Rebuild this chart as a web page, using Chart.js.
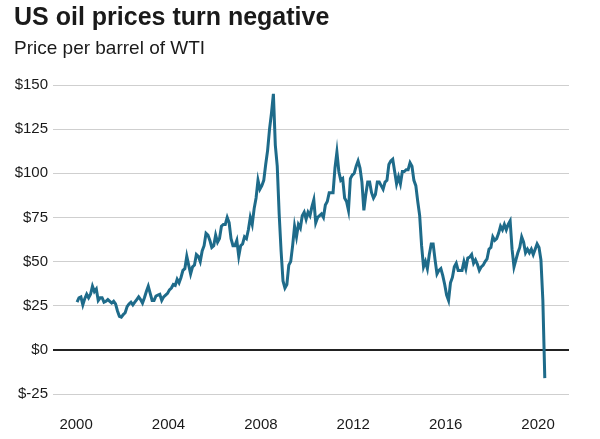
<!DOCTYPE html>
<html>
<head>
<meta charset="utf-8">
<script src="https://cdn.jsdelivr.net/npm/chart.js@4/dist/chart.umd.min.js"></script>
<style>
  html, body {
    margin: 0;
    padding: 0;
    background: #fff;
  }
  .wrap {
    position: relative;
    width: 600px;
    height: 439px;
    font-family: "Liberation Sans", Arial, sans-serif;
    color: #1a1a1a;
  }
  .chart-title {
    position: absolute;
    left: 14px;
    top: 2px;
    font-size: 25px;
    font-weight: bold;
  }
  .chart-subtitle {
    position: absolute;
    left: 14px;
    top: 37px;
    font-size: 19px;
  }
  canvas {
    position: absolute;
    left: 0;
    top: 0;
  }
</style>
</head>
<body>
<div class="wrap">
  <canvas id="oil" width="600" height="439"></canvas>
  <div class="chart-title">US oil prices turn negative</div>
  <div class="chart-subtitle">Price per barrel of WTI</div>
</div>
<script>
// WTI price, one value per month starting Jan 2000
const startYear = 2000;
const monthlyPrice = [
  27, 29.5, 30, 25.5, 29, 31.5, 29.5, 31.5, 36, 33, 34.5, 28,      // 2000
  29.5, 29.5, 27, 27.5, 28.5, 27.5, 26.5, 27.5, 26, 22, 19, 18.5,  // 2001
  20, 21, 24.5, 26, 27, 25.5, 27, 28.5, 30, 28.5, 26.5, 29.5,      // 2002
  33, 36, 32, 28, 28, 30.5, 31, 31.5, 28, 30, 31, 32,              // 2003
  34, 35, 37, 36.5, 40, 38, 41, 45, 46, 53, 48, 43,                // 2004
  47, 48, 54, 53, 50, 56, 59, 66, 65, 62, 58, 59,                  // 2005
  65, 61, 63, 70, 71, 71, 75, 72, 63, 59, 59, 62,                  // 2006
  53, 59, 60, 64, 63, 68, 75, 71, 80, 86, 96, 91,                  // 2007
  93, 96, 105, 113, 125, 134, 145, 116, 104, 77, 56, 39,           // 2008
  35, 37, 48, 50, 59, 70, 64, 71, 69, 76, 78, 74,                  // 2009
  78, 76, 81, 85, 72, 75, 76, 77, 75, 82, 84, 89,                  // 2010
  89, 89, 103, 112, 101, 96, 97, 86, 84, 79, 97, 99,               // 2011
  100, 104, 107, 103, 95, 79, 88, 95, 95, 89, 86, 88,              // 2012
  95, 95, 93, 91, 95, 96, 105, 107, 108, 101, 94, 98,              // 2013
  94, 101, 101, 102, 102, 106, 104, 96, 93, 84, 76, 59,            // 2014
  47, 50, 46, 54, 60, 60, 51, 43, 45, 46, 42, 37,                  // 2015
  31, 28, 38, 41, 47, 49, 45, 45, 45, 50, 46, 52,                  // 2016
  52.5, 54, 49, 51, 48.5, 45, 47, 48, 50, 51.5, 57, 58,            // 2017
  64, 62, 63, 66, 70, 68, 71, 68, 71, 73, 57, 47,                  // 2018
  51, 55, 58, 64, 61, 55, 57, 55, 57, 54, 57, 60,                  // 2019
  58, 51, 28, -16                                                  // 2020
];

const yearTicks = [2000, 2004, 2008, 2012, 2016, 2020];
const priceTicks = [-25, 0, 25, 50, 75, 100, 125, 150];

// mid-month positions on a decimal-year axis
const points = monthlyPrice.map((v, i) => ({ x: startYear + (i + 0.5) / 12, y: v }));

const labelFont = { family: '"Liberation Sans", Arial, sans-serif', size: 15 };

const ctx = document.getElementById('oil').getContext('2d');
new Chart(ctx, {
  type: 'line',
  data: {
    datasets: [{
      data: points,
      borderColor: '#1e6b8a',
      borderWidth: 3,
      pointRadius: 0,
      tension: 0,
      fill: false
    }]
  },
  options: {
    responsive: false,
    animation: false,
    layout: {
      padding: { top: 85, right: 31, bottom: 0, left: 0 }
    },
    plugins: {
      legend: { display: false },
      tooltip: { enabled: false }
    },
    scales: {
      x: {
        type: 'linear',
        min: 1999.0,
        max: 2021.34,
        afterBuildTicks: scale => {
          scale.ticks = yearTicks.map(v => ({ value: v }));
        },
        afterFit: scale => {
          scale.height = 45;
        },
        grid: { display: false, drawTicks: false },
        border: { display: false },
        ticks: {
          padding: 22,
          color: '#1a1a1a',
          font: labelFont,
          callback: v => String(v),
          maxRotation: 0
        }
      },
      y: {
        min: -25,
        max: 150,
        afterBuildTicks: scale => {
          scale.ticks = priceTicks.map(v => ({ value: v }));
        },
        afterFit: scale => {
          scale.width = 53;
        },
        grid: {
          color: c => (c.tick && c.tick.value === 0 ? '#222' : '#cfcfcf'),
          lineWidth: c => (c.tick && c.tick.value === 0 ? 2 : 1),
          drawTicks: false
        },
        border: { display: false },
        ticks: {
          padding: 5,
          color: '#1a1a1a',
          font: labelFont,
          callback: v => '$' + v
        }
      }
    }
  }
});
</script>
</body>
</html>
